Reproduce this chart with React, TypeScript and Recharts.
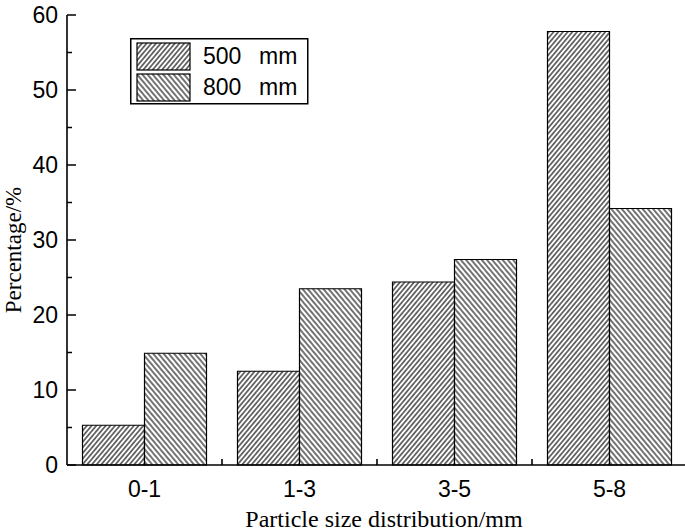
import React from 'react';
import { BarChart, Bar, XAxis, YAxis, Legend } from 'recharts';

const sizeClasses = ['0-1', '1-3', '3-5', '5-8'];
const pct500 = [5.3, 12.5, 24.4, 57.8];
const pct800 = [14.9, 23.5, 27.4, 34.2];
const seriesNames = ['500  mm', '800  mm'];
const yTicks = [0, 5, 10, 15, 20, 25, 30, 35, 40, 45, 50, 55, 60];

const data = sizeClasses.map((s, i) => ({ size: s, d500: pct500[i], d800: pct800[i] }));

const SANS = '"Liberation Sans", Arial, sans-serif';
const SERIF = '"Liberation Serif", "Times New Roman", serif';

// hatch fills: "///" for 500 mm, "\\\" for 800 mm
const hatch = (prefix: string) => [
  <pattern key="a" id={`${prefix}-0`} patternUnits="userSpaceOnUse" width={3.6} height={10} patternTransform="rotate(40)">
    <rect width={3.6} height={10} fill="#fff" />
    <line x1={1.8} y1={0} x2={1.8} y2={10} stroke="#000" strokeWidth={1.1} />
  </pattern>,
  <pattern key="b" id={`${prefix}-1`} patternUnits="userSpaceOnUse" width={4} height={10} patternTransform="rotate(-40)">
    <rect width={4} height={10} fill="#fff" />
    <line x1={2} y1={0} x2={2} y2={10} stroke="#000" strokeWidth={1.1} />
  </pattern>,
];

const YTick = (props: any) => {
  const { x, y, payload } = props;
  const major = payload.value % 10 === 0;
  return (
    <g>
      <line x1={x} x2={x + (major ? 9 : 5)} y1={y} y2={y} stroke="#000" strokeWidth={1.5} />
      {major && (
        <text x={x - 9} y={y} dy="0.36em" textAnchor="end" fontFamily={SANS} fontSize={23} fill="#000">
          {payload.value}
        </text>
      )}
    </g>
  );
};

// category centres seen so far; a boundary tick sits half way between two neighbours
const tickXs: number[] = [];

const XTick = (props: any) => {
  const { x, y, payload } = props;
  const i = sizeClasses.indexOf(String(payload.value));
  tickXs[i] = Number(x);
  const prev = i > 0 ? tickXs[i - 1] : undefined;
  const bx = prev !== undefined && !isNaN(prev) ? (prev + Number(x)) / 2 : undefined;
  return (
    <g>
      <text x={x} y={y + 32} textAnchor="middle" fontFamily={SANS} fontSize={23} fill="#000">
        {payload.value}
      </text>
      {bx !== undefined && (
        <line x1={bx} x2={bx} y1={y} y2={y - 6} stroke="#000" strokeWidth={1.6} />
      )}
    </g>
  );
};

const LegendBox = (props: any) => {
  const payload = props.payload ?? [];
  return (
    <svg width={180} height={68} style={{ display: 'block' }}>
      <defs>{hatch('lg')}</defs>
      <rect x={0.75} y={0.75} width={177} height={65} fill="#fff" stroke="#000" strokeWidth={1.5} />
      {payload.map((p: any, i: number) => {
        const [num, unit] = String(p.value).split(/\s+/);
        return (
          <g key={i}>
            <rect x={7} y={5 + i * 31} width={53} height={27} fill={`url(#lg-${i})`} stroke="#000" strokeWidth={1.2} />
            <text x={73} y={18 + i * 31} dy="0.36em" fontFamily={SANS} fontSize={23} fill="#000">
              {num}
            </text>
            <text x={129} y={18 + i * 31} dy="0.36em" fontFamily={SANS} fontSize={23} fill="#000">
              {unit}
            </text>
          </g>
        );
      })}
    </svg>
  );
};

const YLabel = (props: any) => {
  const vb = props.viewBox;
  const cy = vb.y + vb.height / 2 + 10;
  return (
    <text x={21} y={cy} transform={`rotate(-90, 21, ${cy})`} textAnchor="middle" fontFamily={SERIF} fontSize={23} fill="#000">
      Percentage/%
    </text>
  );
};

export default function App() {
  return (
    <div style={{ position: 'absolute', left: 0, top: 0, width: 685, height: 532, overflow: 'hidden', background: '#fff' }}>
      <BarChart
        width={690}
        height={532}
        data={data}
        margin={{ top: 15, right: 3, left: 0, bottom: 0 }}
        barCategoryGap="10%"
        barGap={0}
      >
        <defs>{hatch('pt')}</defs>
        <XAxis
          dataKey="size"
          height={67}
          interval={0}
          tickSize={0}
          tickMargin={0}
          tickLine={false}
          tick={<XTick />}
          axisLine={{ stroke: '#000', strokeWidth: 1.6 }}
          label={{
            value: 'Particle size distribution/mm',
            position: 'insideBottom',
            offset: 5,
            dx: 7,
            style: { fontFamily: SERIF, fontSize: 24, fill: '#000' },
          }}
        />
        <XAxis xAxisId="top" dataKey="size" orientation="top" height={0} tick={false} tickLine={false} axisLine={{ stroke: '#000', strokeWidth: 1.6 }} />
        <YAxis
          width={67}
          domain={[0, 60]}
          ticks={yTicks}
          interval={0}
          tickSize={0}
          tickMargin={0}
          tickLine={false}
          tick={<YTick />}
          axisLine={{ stroke: '#000', strokeWidth: 1.6 }}
          label={<YLabel />}
        />
        <YAxis yAxisId="right" orientation="right" width={0} domain={[0, 60]} tick={false} tickLine={false} axisLine={{ stroke: '#000', strokeWidth: 1.6 }} />
        <Legend
          layout="vertical"
          align="center"
          verticalAlign="middle"
          content={<LegendBox />}
          wrapperStyle={{ left: 130, top: 38, width: 180, height: 68 }}
        />
        <Bar dataKey="d500" name={seriesNames[0]} fill="url(#pt-0)" stroke="#000" strokeWidth={1.2} isAnimationActive={false} />
        <Bar dataKey="d800" name={seriesNames[1]} fill="url(#pt-1)" stroke="#000" strokeWidth={1.2} isAnimationActive={false} />
      </BarChart>
    </div>
  );
}
